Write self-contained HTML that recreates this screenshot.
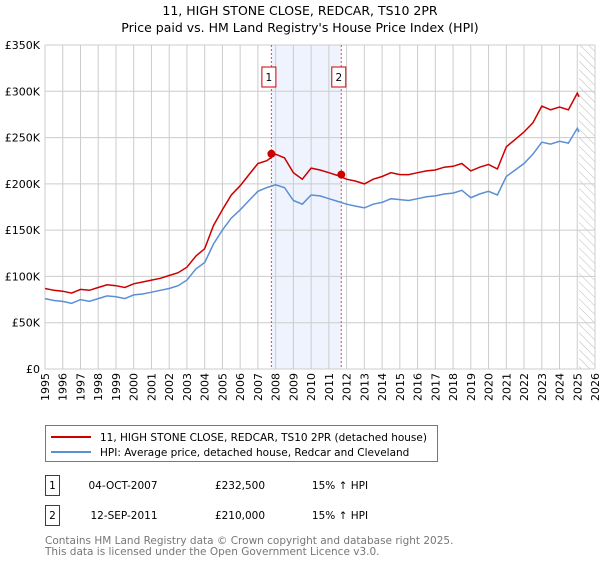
<!DOCTYPE html>
<html><head><meta charset="utf-8"><style>
body{margin:0;background:#fff;font-family:"DejaVu Sans","Liberation Sans",sans-serif;}
svg text{font-family:"DejaVu Sans","Liberation Sans",sans-serif;}
</style></head><body>
<svg width="600" height="560" viewBox="0 0 600 560">
<text x="300" y="15" text-anchor="middle" font-size="12.5">11, HIGH STONE CLOSE, REDCAR, TS10 2PR</text>
<text x="300" y="32" text-anchor="middle" font-size="12.5">Price paid vs. HM Land Registry's House Price Index (HPI)</text>
<g id="plot"></g>
<g>
<rect x="45.5" y="425.5" width="392" height="36" fill="#fff" stroke="#777"/>
<line x1="51" y1="437" x2="91" y2="437" stroke="#cc0000" stroke-width="2"/>
<text x="100" y="441" font-size="10.5">11, HIGH STONE CLOSE, REDCAR, TS10 2PR (detached house)</text>
<line x1="51" y1="452" x2="91" y2="452" stroke="#5b8fd4" stroke-width="2"/>
<text x="100" y="456" font-size="10.5">HPI: Average price, detached house, Redcar and Cleveland</text>
</g>
<g font-size="10.5">
<rect x="45.5" y="475.5" width="14" height="20" fill="#fff" stroke="#cc0000"/>
<text x="52.5" y="489" text-anchor="middle">1</text>
<text x="123" y="489" text-anchor="middle">04-OCT-2007</text>
<text x="240" y="489" text-anchor="middle">£232,500</text>
<text x="340" y="489" text-anchor="middle">15% ↑ HPI</text>
<rect x="45.5" y="505.5" width="14" height="20" fill="#fff" stroke="#cc0000"/>
<text x="52.5" y="519" text-anchor="middle">2</text>
<text x="124" y="519" text-anchor="middle">12-SEP-2011</text>
<text x="240" y="519" text-anchor="middle">£210,000</text>
<text x="340" y="519" text-anchor="middle">15% ↑ HPI</text>
</g>
<text x="45" y="544" font-size="10.5" fill="#777">Contains HM Land Registry data © Crown copyright and database right 2025.</text>
<text x="45" y="555" font-size="10.5" fill="#777">This data is licensed under the Open Government Licence v3.0.</text>
</svg>
<script>
const times=[1995,1995.5,1996,1996.5,1997,1997.5,1998,1998.5,1999,1999.5,2000,2000.5,2001,2001.5,2002,2002.5,2003,2003.5,2004,2004.5,2005,2005.5,2006,2006.5,2007,2007.5,2008,2008.5,2009,2009.5,2010,2010.5,2011,2011.5,2012,2012.5,2013,2013.5,2014,2014.5,2015,2015.5,2016,2016.5,2017,2017.5,2018,2018.5,2019,2019.5,2020,2020.5,2021,2021.5,2022,2022.5,2023,2023.5,2024,2024.5,2025,2025.1];
const hpiValues=[76,74,73,71,75,73,76,79,78,76,80,81,83,85,87,90,96,108,115,135,150,163,172,182,192,196,199,196,182,178,188,187,184,181,178,176,174,178,180,184,183,182,184,186,187,189,190,193,185,189,192,188,208,215,222,232,245,243,246,244,260,256];
const priceValues=[87,85,84,82,86,85,88,91,90,88,92,94,96,98,101,104,110,122,130,155,172,188,198,210,222,225,232,228,212,205,217,215,212,209,205,203,200,205,208,212,210,210,212,214,215,218,219,222,214,218,221,216,240,248,256,266,284,280,283,280,298,294];
const yTicks=[0,50,100,150,200,250,300,350];
const yTickLabels=["£0","£50K","£100K","£150K","£200K","£250K","£300K","£350K"];
const xYears=[1995,1996,1997,1998,1999,2000,2001,2002,2003,2004,2005,2006,2007,2008,2009,2010,2011,2012,2013,2014,2015,2016,2017,2018,2019,2020,2021,2022,2023,2024,2025,2026];
const saleTimes=[2007.76,2011.7];
const salePrices=[232.5,210];
const saleLabels=["1","2"];
const L=45,R=595,T=45,B=369;
const X=t=>L+(t-1995)/(2026-1995)*(R-L);
const Y=v=>B-v/350*(B-T);
const NS="http://www.w3.org/2000/svg";
const g=document.getElementById('plot');
function mk(tag,a){const e=document.createElementNS(NS,tag);for(const k in a)e.setAttribute(k,a[k]);g.appendChild(e);return e;}
let sh=mk('rect',{x:X(saleTimes[0]),y:T,width:X(saleTimes[1])-X(saleTimes[0]),height:B-T,fill:'#eef3fd'});


const defs=mk('defs',{});
defs.innerHTML='<pattern id="h" width="6" height="6" patternUnits="userSpaceOnUse" patternTransform="rotate(-45)"><line x1="0" y1="0" x2="0" y2="6" stroke="#bbb" stroke-width="1"/></pattern>';
let ht=mk('rect',{x:X(2025.1),y:T,width:R-X(2025.1),height:B-T,fill:'url(#h)'});


xYears.forEach(y=>{let l=mk('line',{x1:X(y),x2:X(y),y1:T,y2:B,stroke:'#ccc'});


let t=mk('text',{x:0,y:0,'text-anchor':'end','font-size':'11',transform:'translate('+(X(y)+4)+',373) rotate(-90)'});t.textContent=y;

});
yTicks.forEach((v,i)=>{let l=mk('line',{x1:L,x2:R,y1:Y(v),y2:Y(v),stroke:'#ccc'});


let t=mk('text',{x:L-5,y:Y(v)+4,'text-anchor':'end','font-size':'11'});t.textContent=yTickLabels[i];

});
saleTimes.forEach((s,i)=>{let l=mk('line',{x1:X(s),x2:X(s),y1:T,y2:B,stroke:'#ee4444','stroke-dasharray':'2,2'});


let r=mk('rect',{x:X(s)-9.5,y:67,width:14,height:20,fill:'#fff',stroke:'#cc0000'});


let t=mk('text',{x:X(s)-2.5,y:81,'text-anchor':'middle','font-size':'10.5'});t.textContent=saleLabels[i];

});
const path=(vals)=>vals.map((v,i)=>(i?'L':'M')+X(times[i]).toFixed(1)+','+Y(v).toFixed(1)).join('');
let hp=mk('path',{d:path(hpiValues),fill:'none',stroke:'#5b8fd4','stroke-width':1.5});


let pp=mk('path',{d:path(priceValues),fill:'none',stroke:'#cc0000','stroke-width':1.5});


saleTimes.forEach((s,i)=>{let c=mk('circle',{cx:X(s),cy:Y(salePrices[i]),r:4,fill:'#cc0000'});

});
</script>
</body></html>
